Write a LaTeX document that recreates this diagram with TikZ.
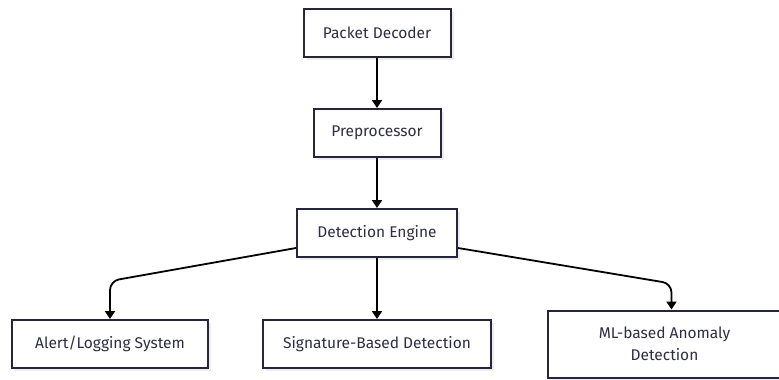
\documentclass[tikz,border=0pt]{standalone}
\usepackage{fontspec}
\setmainfont{Fira Sans}
\usetikzlibrary{positioning,shadows,arrows.meta}

\definecolor{boxline}{HTML}{25253D}
\definecolor{boxtext}{HTML}{2E2E45}

\begin{document}
\begin{tikzpicture}[x=1pt,y=1pt,node distance=50pt,
    stage/.style={rectangle,draw=boxline,line width=2pt,fill=white,text=boxtext,
        minimum height=48pt,inner xsep=16pt,align=center,
        font=\fontsize{15.5}{22}\selectfont,
        drop shadow={shadow xshift=3pt,shadow yshift=-3pt,fill=black!7,opacity=1}},
    flow/.style={-{Triangle[length=8pt,width=10pt]},line width=1.8pt,rounded corners=9pt}]
    \useasboundingbox (0,0) rectangle (779,-380);
    \node[stage,minimum width=147pt] (decoder) at (377,-33) {Packet Decoder};
    \node[stage,minimum width=127pt] (prep) [below=of decoder] {Preprocessor};
    \node[stage,minimum width=160pt] (engine) [below=of prep] {Detection Engine};
    \node[stage,minimum width=228pt] (sig) [below=61pt of engine] {Signature-Based Detection};
    \node[stage,minimum width=196pt] (alert) [left=53pt of sig] {Alert/Logging System};
    \node[stage,minimum width=233pt,minimum height=67pt] (ml) [right=55pt of sig]
        {ML-based Anomaly\\Detection};
    % pipeline down to the engine
    \draw[flow] (decoder) -- (prep);
    \draw[flow] (prep) -- (engine);
    % engine fans out to the three outputs
    \draw[flow] ([yshift=-15pt]engine.west) -- ([yshift=38pt]alert.north) -- (alert.north);
    \draw[flow] (engine) -- (sig);
    \draw[flow] ([yshift=-15pt]engine.east) -- ([xshift=7pt,yshift=26pt]ml.north) -- ([xshift=7pt]ml.north);
\end{tikzpicture}
\end{document}
